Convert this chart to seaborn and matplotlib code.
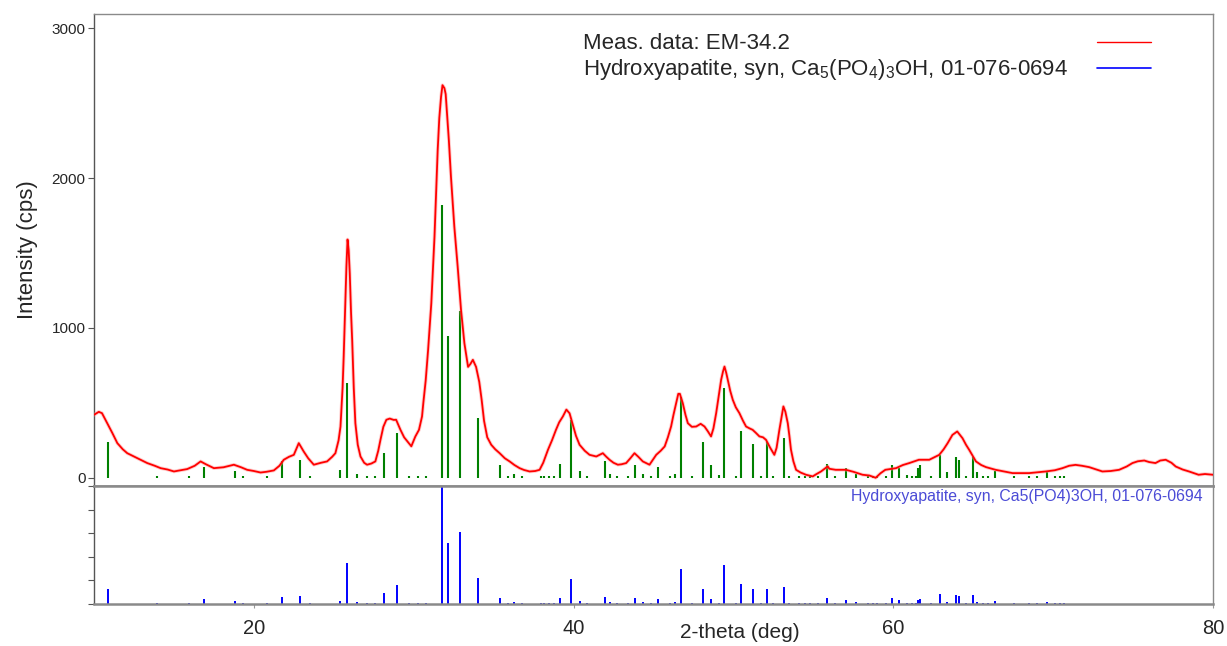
import numpy as np
import pandas as pd
import matplotlib
matplotlib.use("Agg")
import matplotlib.pyplot as plt
import seaborn as sns

two_theta = [10.0, 10.3, 10.5, 10.83, 11.15, 11.46, 11.8, 12.08, 12.7, 13.33, 13.8, 14.17, 14.6, 15.0, 15.4,
             15.83, 16.3, 16.67, 17.0, 17.5, 18.1, 18.75, 19.2, 19.58, 20.0, 20.42, 20.8, 21.25, 21.6, 21.87,
             22.2, 22.5, 22.81, 23.12, 23.4, 23.75, 24.2, 24.58, 24.9, 25.1, 25.3, 25.42, 25.55, 25.62, 25.72,
             25.79, 25.86, 25.93, 26.0, 26.08, 26.15, 26.25, 26.35, 26.5, 26.67, 26.9, 27.08, 27.35, 27.6,
             27.78, 27.92, 28.1, 28.29, 28.5, 28.75, 28.9, 29.17, 29.4, 29.69, 29.85, 30.1, 30.33, 30.52, 30.6,
             30.75, 30.9, 31.1, 31.3, 31.5, 31.6, 31.71, 31.8, 31.92, 32.0, 32.1, 32.2, 32.33, 32.54, 32.75,
             32.96, 33.17, 33.4, 33.55, 33.7, 33.9, 34.1, 34.25, 34.4, 34.6, 34.85, 35.1, 35.375, 35.7, 36.0,
             36.3, 36.625, 36.9, 37.25, 37.6, 37.875, 38.1, 38.4, 38.65, 38.9, 39.1, 39.33, 39.55, 39.75,
             39.96, 40.15, 40.375, 40.7, 41.0, 41.42, 41.83, 42.05, 42.25, 42.5, 42.77, 43.0, 43.29, 43.55,
             43.81, 44.05, 44.33, 44.75, 45.17, 45.45, 45.7, 45.9, 46.1, 46.25, 46.42, 46.55, 46.65, 46.83,
             47.0, 47.15, 47.4, 47.67, 47.95, 48.19, 48.4, 48.6, 48.75, 48.92, 49.1, 49.23, 49.35, 49.44,
             49.55, 49.65, 49.8, 49.96, 50.15, 50.375, 50.6, 50.79, 51.0, 51.2, 51.4, 51.625, 51.85, 52.04,
             52.3, 52.56, 52.7, 52.875, 53.0, 53.125, 53.25, 53.4, 53.5, 53.6, 53.75, 53.92, 54.2, 54.54,
             54.96, 55.2, 55.48, 55.9, 56.0, 56.4, 57.04, 57.5, 58.08, 58.5, 58.9, 59.2, 59.5, 60.17, 60.6,
             61.0, 61.6, 62.25, 62.875, 63.15, 63.4, 63.7, 64.0, 64.33, 64.55, 64.75, 65.0, 65.17, 65.5, 65.8,
             66.4, 67.46, 68.5, 69.54, 70.1, 70.58, 71.0, 71.4, 71.8, 72.25, 72.7, 73.08, 73.6, 74.125, 74.6,
             74.96, 75.3, 75.7, 76.0, 76.4, 76.7, 77.04, 77.4, 77.67, 78.1, 78.5, 79.1, 79.5, 80.0]
intensity = [420, 440, 431, 364, 298, 231, 190, 164, 131, 98, 80, 64, 55, 42, 50,
             58, 80, 109, 90, 64, 70, 87, 70, 53, 45, 35, 40, 49, 80, 120,
             140, 153, 231, 175, 130, 87, 100, 109, 140, 164, 250, 342, 600, 809, 1150,
             1409, 1590, 1520, 1364, 1100, 920, 600, 364, 220, 142, 100, 87, 95, 109,
             180, 253, 340, 387, 395, 386, 387, 320, 270, 231, 210, 275, 320, 409, 498,
             650, 853, 1164, 1609, 2187, 2400, 2542, 2620, 2600, 2560, 2409, 2250, 2009, 1676, 1409,
             1120, 898, 740, 760, 787, 740, 640, 520, 380, 270, 220, 190, 164, 130, 109,
             85, 64, 52, 42, 45, 53, 100, 187, 250, 320, 370, 409, 455, 430,
             350, 280, 220, 180, 153, 142, 164, 140, 120, 100, 87, 90, 98, 130,
             164, 140, 109, 87, 153, 180, 209, 270, 342, 420, 498, 560, 560, 498,
             420, 364, 340, 342, 360, 342, 310, 276, 330, 431, 560, 653, 710, 742,
             700, 653, 580, 520, 470, 431, 380, 342, 330, 320, 300, 276, 270, 253,
             200, 153, 200, 320, 400, 476, 440, 364, 280, 187, 110, 53, 35, 20,
             9, 25, 42, 76, 60, 53, 53, 40, 20, 15, 0, 30, 53, 64, 85,
             98, 120, 120, 153, 190, 231, 286, 309, 264, 220, 186, 140, 109, 85, 71,
             53, 31, 31, 42, 50, 64, 80, 86, 80, 71, 55, 42, 45, 53, 75,
             98, 110, 115, 105, 98, 115, 120, 100, 75, 55, 42, 20, 25, 20]

# reference card 01-076-0694 (2-theta deg, relative intensity %)
ref_pos = [10.85, 13.97, 15.94, 16.85, 18.84, 19.33, 20.80, 21.79, 22.88, 23.53, 25.38, 25.85, 26.45,
           27.10, 27.59, 28.15, 28.93, 29.73, 30.27, 30.76, 31.76, 32.17, 32.88, 34.04, 35.42, 35.89,
           36.27, 36.76, 37.99, 38.17, 38.44, 38.79, 39.17, 39.82, 40.42, 40.85, 41.99, 42.30, 42.72,
           43.42, 43.86, 44.33, 44.87, 45.29, 46.03, 46.37, 46.70, 47.42, 48.07, 48.61, 49.11, 49.44,
           50.14, 50.45, 51.24, 51.75, 52.07, 52.45, 53.14, 53.48, 54.1, 54.5, 54.8, 55.3, 55.86, 56.35,
           57.07, 57.64, 58.4, 58.7, 59.0, 59.56, 59.94, 60.35, 60.86, 61.2, 61.4, 61.53, 61.65, 62.35,
           62.93, 63.37, 63.91, 64.09, 64.54, 65.01, 65.24, 65.6, 65.9, 66.34, 67.53, 68.5, 69.0, 69.64,
           70.1, 70.4, 70.7]
ref_int = [13.0, 0.8, 0.8, 4.0, 2.3, 0.8, 0.8, 6.2, 6.5, 0.8, 2.8, 34.8, 1.5,
           0.8, 0.8, 9.0, 16.4, 0.8, 0.8, 0.8, 100, 52, 61, 21.8, 4.8, 0.8,
           1.4, 0.8, 0.8, 0.8, 0.8, 0.8, 5.0, 21.0, 2.5, 0.8, 6.2, 1.4, 0.8,
           0.8, 4.8, 1.4, 0.8, 4.0, 0.8, 1.4, 29.5, 0.8, 13.0, 4.5, 1.0, 32.9,
           0.8, 17.0, 12.5, 0.8, 13.0, 0.8, 14.7, 0.8, 0.8, 0.8, 0.8, 0.8, 5.0, 0.8,
           3.7, 1.4, 0.8, 0.8, 0.8, 0.8, 4.8, 3.7, 1.0, 0.8, 0.8, 3.7, 4.5, 0.8,
           8.2, 2.0, 7.6, 6.5, 0.8, 7.6, 2.0, 0.8, 0.8, 2.5, 0.8, 0.8, 0.8, 2.0,
           0.8, 0.8, 0.8]
ref_scale = 18.2  # cps per % for the green sticks in the top panel

meas = pd.DataFrame({"two_theta": two_theta, "intensity": intensity})
ref = pd.DataFrame({"two_theta": ref_pos, "rel": ref_int})

sns.set_style("ticks")
plt.rcParams['font.family'] = ['Liberation Sans', 'DejaVu Sans']
plt.rcParams['mathtext.default'] = 'regular'

fig = plt.figure(figsize=(12.27, 6.46), dpi=100)
W, H = 1227, 646
x0, x1 = 94 / W, 1213 / W
ax1 = fig.add_axes([x0, 1 - 486 / H, x1 - x0, 472 / H])
ax2 = fig.add_axes([x0, 1 - 604 / H, x1 - x0, 118 / H], sharex=ax1)

# top panel: measured data + card sticks
ax1.vlines(ref["two_theta"], 0, ref["rel"] * ref_scale, color="#008000", lw=1.5, zorder=2)
ax1.plot(meas["two_theta"], meas["intensity"], color="#ff9090", lw=2.6, alpha=0.45, zorder=3)
sns.lineplot(data=meas, x="two_theta", y="intensity", ax=ax1, color="#ff0000", lw=1.3, zorder=4)
ax1.set_xlim(10, 80)
ax1.set_ylim(-55, 3095)
ax1.set_yticks([0, 1000, 2000, 3000])
ax1.tick_params(axis="y", labelsize=11, length=4, width=0.8, color="#555555", pad=2)
ax1.tick_params(axis="x", labelbottom=False, length=3, width=0.8, color="#999999")
ax1.set_xlabel("")
ax1.set_ylabel("")

# legend drawn by hand
ax1.text(0.437, 0.938, "Meas. data: EM-34.2", transform=ax1.transAxes, fontsize=16, va="center")
ax1.text(0.437, 0.883, "Hydroxyapatite, syn, Ca$_5$(PO$_4$)$_3$OH, 01-076-0694",
         transform=ax1.transAxes, fontsize=16, va="center")
ax1.plot([0.896, 0.945], [0.94, 0.94], color="#ff0000", lw=1.0, transform=ax1.transAxes)
ax1.plot([0.896, 0.945], [0.885, 0.885], color="#0000ff", lw=1.2, transform=ax1.transAxes)

# bottom panel: reference card
ax2.vlines(ref["two_theta"], 0, ref["rel"], color="#0000ff", lw=1.4)
ax2.set_ylim(0, 100)
ax2.set_yticks([0, 20, 40, 60, 80, 100])
ax2.set_yticklabels([])
ax2.tick_params(axis="y", length=4, width=0.8, color="#555555")
ax2.set_xticks([20, 40, 60, 80])
ax2.tick_params(axis="x", labelsize=14.5, length=3, width=0.8, color="#999999", pad=8)
ax2.text(0.991, 0.91, "Hydroxyapatite, syn, Ca5(PO4)3OH, 01-076-0694", transform=ax2.transAxes,
         fontsize=11.4, color="#4b4bd6", ha="right", va="center")

for ax in (ax1, ax2):
    for s in ax.spines.values():
        s.set_color("#8a8a8a")
        s.set_linewidth(1.0)
    ax.spines["left"].set_color("#555555")
ax1.spines["bottom"].set_linewidth(1.8)
ax2.spines["top"].set_linewidth(1.8)
ax2.spines["bottom"].set_linewidth(1.8)

fig.text(27 / W, 1 - 250 / H, "Intensity (cps)", rotation=90, fontsize=16, ha="center", va="center")
fig.text(740 / W, 1 - 633 / H, "2-theta (deg)", fontsize=15, ha="center", va="center")

fig.savefig("out.png", dpi=100)
